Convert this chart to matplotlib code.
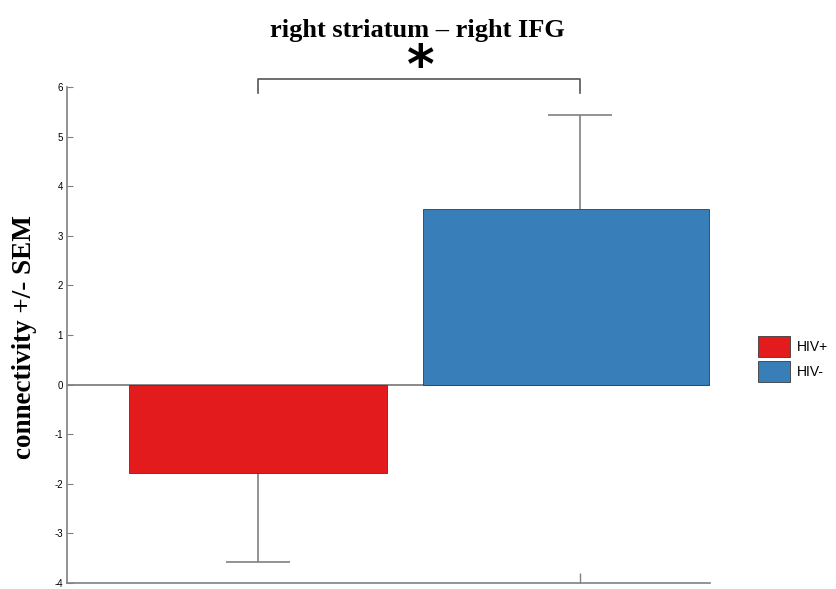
import numpy as np
import matplotlib.pyplot as plt
from matplotlib.patches import Patch

plt.rcParams['axes.unicode_minus'] = False

groups = ['HIV+', 'HIV-']
means = [-1.79, 3.55]
sem = [1.78, 1.89]
colors = ['#E41B1C', '#387EB9']
title = 'right striatum \u2013 right IFG'
ylabel = 'connectivity +/- SEM'

fig = plt.figure(figsize=(8.36, 5.89), dpi=100)
ax = fig.add_axes([67/836, 6/589, 643/836, 496/589])

# bar placement (centers + widths in axis units)
xpos = [1.0, 1.956]
widths = [0.80, 0.888]
gray = '#808080'

ax.axhline(0, color=gray, lw=1.3, zorder=1)
for i in range(2):
    ax.bar(xpos[i], means[i], width=widths[i], color=colors[i],
           edgecolor='#3a3a3a', linewidth=0.6, zorder=2)
    # one-sided error bar, cap only at the far end
    neg = means[i] < 0
    lo = [sem[i]] if neg else [0]
    hi = [0] if neg else [sem[i]]
    eb = ax.errorbar([1.0, 2.0][i], means[i], yerr=[lo, hi], fmt='none',
                     ecolor=gray, elinewidth=1.2, capsize=23, capthick=1.2,
                     zorder=1)
    caps = eb[1]
    caps[1 if neg else 0].set_visible(False)

ax.set_xlim(0.407, 2.404)
ax.set_ylim(-4, 6)
ax.set_yticks(np.arange(-4, 7, 1))
ax.set_xticks([2.0])
ax.set_xticklabels([])
ax.tick_params(axis='y', direction='in', length=4, width=0.8, color=gray,
               labelsize=7, pad=3)
for lab in ax.get_yticklabels():
    lab.set_family('Liberation Sans')
ax.tick_params(axis='x', direction='in', length=7, width=1.0, color=gray)
for s in ['top', 'right']:
    ax.spines[s].set_visible(False)
for s in ['left', 'bottom']:
    ax.spines[s].set_color(gray)
    ax.spines[s].set_linewidth(1.2)

fig.text(25/836, 1 - 337/589, ylabel, family='Liberation Serif',
         fontweight='bold', fontsize=19.5, rotation=90,
         ha='center', va='center')

# title, significance star and bracket
fig.text(417/836, 1 - 30/589, title, family='Liberation Serif',
         fontweight='bold', fontsize=19, ha='center', va='center')
ax.plot([1.0, 1.0, 2.0, 2.0], [5.87, 6.16, 6.16, 5.87], color='#555555',
        lw=1.2, clip_on=False)
fig.text(421/836, 1 - 68/589, '*', family='DejaVu Sans', fontweight='bold',
         fontsize=38, ha='center', va='center')

handles = [Patch(facecolor=colors[i], edgecolor='#3a3a3a', linewidth=0.6)
           for i in range(2)]
fig.legend(handles, groups, loc='center left', bbox_to_anchor=(758/836, 1 - 359/589),
           frameon=False, prop={'family': 'Liberation Sans', 'size': 10},
           handlelength=2.3, handleheight=2.0, labelspacing=0.25,
           handletextpad=0.5, borderaxespad=0, borderpad=0)

fig.savefig('out.png', dpi=100)
